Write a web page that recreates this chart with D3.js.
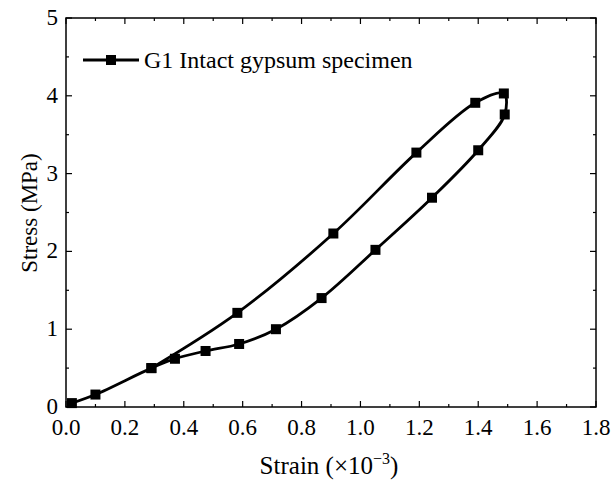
<!DOCTYPE html>
<html><head><meta charset="utf-8">
<script src="https://cdn.jsdelivr.net/npm/d3@7"></script>
<style>body{margin:0;background:#fff}svg text{font-family:"Liberation Serif","Times New Roman",serif;fill:#000}</style>
</head><body>
<svg id="c" width="614" height="482"></svg>
<script>
const seriesName = "G1 Intact gypsum specimen";
const strain = [0.02, 0.10, 0.29, 0.37, 0.474, 0.588, 0.713, 0.868, 1.051, 1.243, 1.40, 1.49, 1.487, 1.39, 1.19, 0.908, 0.582, 0.29];
const stress = [0.05, 0.16, 0.50, 0.62, 0.72, 0.81, 1.00, 1.40, 2.02, 2.69, 3.30, 3.76, 4.03, 3.91, 3.27, 2.23, 1.21, 0.50];
const xTicks = [0.0, 0.2, 0.4, 0.6, 0.8, 1.0, 1.2, 1.4, 1.6, 1.8];
const yTicks = [0, 1, 2, 3, 4, 5];

const svg = d3.select("#c");
const L = 66, R = 596, T = 18, B = 407;
const x = d3.scaleLinear().domain([0, 1.8]).range([L, R]);
const y = d3.scaleLinear().domain([0, 5]).range([B, T]);
const xMinor = d3.range(0, 1.8001, 0.1);
const yMinor = d3.range(0, 5.001, 0.5);

const ax = svg.append("g").attr("stroke", "#000").attr("stroke-width", 1.2);
xMinor.forEach((v, i) => {
  const len = (i % 2 === 0) ? 6 : 3;
  ax.append("line").attr("x1", x(v)).attr("x2", x(v)).attr("y1", B).attr("y2", B - len);
  ax.append("line").attr("x1", x(v)).attr("x2", x(v)).attr("y1", T).attr("y2", T + len);
});
yMinor.forEach((v, i) => {
  const len = (i % 2 === 0) ? 6 : 3;
  ax.append("line").attr("y1", y(v)).attr("y2", y(v)).attr("x1", L).attr("x2", L + len);
  ax.append("line").attr("y1", y(v)).attr("y2", y(v)).attr("x1", R).attr("x2", R - len);
});
svg.append("rect").attr("x", L).attr("y", T).attr("width", R - L).attr("height", B - T)
  .attr("fill", "none").attr("stroke", "#000").attr("stroke-width", 1.5);

svg.append("g").selectAll("text").data(xTicks).join("text")
  .attr("x", d => x(d)).attr("y", B + 28).attr("text-anchor", "middle")
  .attr("font-size", 23).text(d => d.toFixed(1));
svg.append("g").selectAll("text").data(yTicks).join("text")
  .attr("x", L - 8).attr("y", d => y(d) + 7).attr("text-anchor", "end")
  .attr("font-size", 23).text(d => d);

const xl = svg.append("text").attr("x", 329).attr("y", 474).attr("text-anchor", "middle").attr("font-size", 25);
xl.append("tspan").text("Strain (\u00d710");
xl.append("tspan").attr("dy", -10).attr("font-size", 16).text("\u22123");
xl.append("tspan").attr("dy", 10).text(")");
svg.append("text").attr("transform", "translate(37,213) rotate(-90)").attr("text-anchor", "middle")
  .attr("font-size", 23).text("Stress (MPa)");

const pts = strain.map((s, i) => [s, stress[i]]);
const line = d3.line().x(d => x(d[0])).y(d => y(d[1])).curve(d3.curveCatmullRom.alpha(0.5));
svg.append("path").attr("d", line(pts)).attr("fill", "none").attr("stroke", "#000").attr("stroke-width", 2.8);
const ms = 10;
svg.append("g").selectAll("rect").data(pts).join("rect")
  .attr("x", d => x(d[0]) - ms / 2).attr("y", d => y(d[1]) - ms / 2)
  .attr("width", ms).attr("height", ms).attr("fill", "#000");

// legend
const lg = svg.append("g");
lg.append("line").attr("x1", 83).attr("x2", 139).attr("y1", 60).attr("y2", 60).attr("stroke", "#000").attr("stroke-width", 2.8);
lg.append("rect").attr("x", 111 - ms / 2).attr("y", 60 - ms / 2).attr("width", ms).attr("height", ms).attr("fill", "#000");
lg.append("text").attr("x", 144).attr("y", 68).attr("font-size", 24).text(seriesName);
</script>
</body></html>
